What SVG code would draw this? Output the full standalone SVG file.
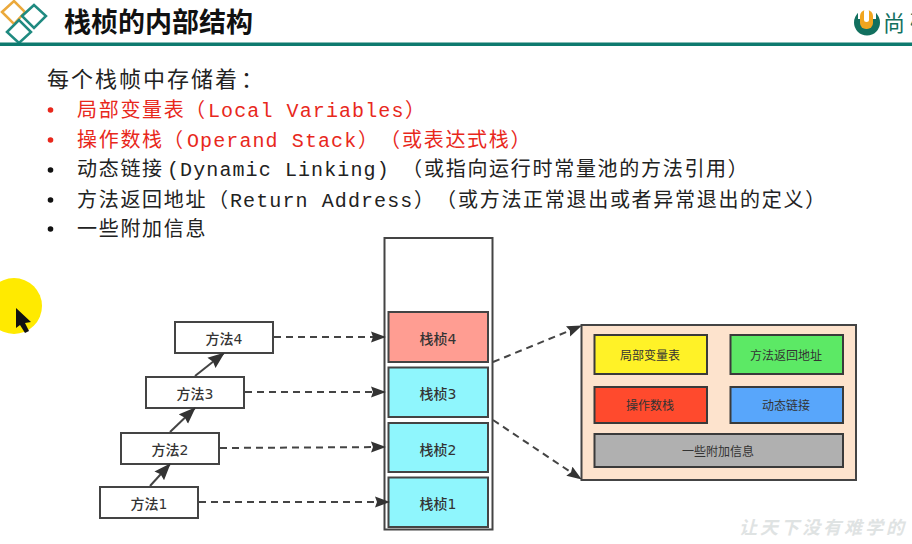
<svg xmlns="http://www.w3.org/2000/svg" width="912" height="544" viewBox="0 0 912 544">
<style>
text{font-family:"Noto Sans CJK SC","Liberation Sans",sans-serif}
.line{font-size:20px;fill:#222;letter-spacing:1.7px}
.red{fill:#e8281c}
.m{font-family:"Liberation Mono","Noto Sans CJK SC",monospace;letter-spacing:1.1px}
.node{fill:#fff;stroke:#444;stroke-width:2}
.nt{font-family:"DejaVu Sans","Noto Sans CJK SC",sans-serif;font-size:14px;fill:#333;text-anchor:middle;font-weight:500}
.in{stroke:#3a3a3a;stroke-width:2}
.it{font-size:12px;fill:#333;text-anchor:middle}
.dash{fill:none;stroke:#444;stroke-width:2;stroke-dasharray:7 5}
.solid{fill:none;stroke:#444;stroke-width:2}
</style>
<defs>
<marker id="a" markerUnits="userSpaceOnUse" markerWidth="15" markerHeight="12" refX="14" refY="6" orient="auto"><path d="M0 0.500L15 6L0 11.500L2 6Z" fill="#333"/></marker>
<marker id="b" markerUnits="userSpaceOnUse" markerWidth="17" markerHeight="14" refX="16" refY="7" orient="auto"><path d="M0 0.500L17 7L0 13.500L2 7Z" fill="#333"/></marker>
</defs>
<rect width="912" height="544" fill="#fff"/>
<g id="header">
<g fill="none" stroke-width="2.500"><path d="M2 12L14 1L25 12L14 24Z" stroke="#eba93c"/><path d="M22 16L34 5L46 16L34 28Z" stroke="#1f8a80"/><path d="M7 32L19 20L31 32L19 43Z" stroke="#1f8a80"/></g>
<text x="64" y="32" font-size="27" font-weight="700" fill="#111">栈桢的内部结构</text>
<rect x="0" y="42.500" width="912" height="3.500" fill="#0e7a6f"/>
<circle cx="867" cy="22.500" r="13" fill="#12705f"/><rect x="858" y="7" width="18" height="12" fill="#fff"/><rect x="860" y="10" width="13" height="19" rx="6" fill="#f1a51f"/><rect x="864" y="9" width="5" height="13" rx="2.500" fill="#fff"/>
<text x="883" y="31" font-size="22" fill="#12705f" letter-spacing="5">尚硅</text>
</g>
<g id="text">
<text x="47" y="87" font-size="22" fill="#222" letter-spacing="2">每个栈帧中存储着<tspan x="241">&#xFF1A;</tspan></text>
<circle cx="50.500" cy="110" r="2.800" fill="#e8281c"/><text class="line red" x="77" y="117">局部变量表<tspan x="185">&#xFF08;</tspan><tspan class="m" x="208">Local Variables</tspan><tspan x="405">&#xFF09;</tspan></text>
<circle cx="50.500" cy="140" r="2.800" fill="#e8281c"/><text class="line red" x="77" y="147">操作数栈<tspan x="163">&#xFF08;</tspan><tspan class="m" x="187">Operand Stack</tspan><tspan x="358">&#xFF09;</tspan><tspan x="380">&#xFF08;</tspan><tspan x="402">或表达式栈&#xFF09;</tspan></text>
<circle cx="50.500" cy="170" r="2.800" fill="#111"/><text class="line" x="77" y="176">动态链接<tspan class="m" x="167">(Dynamic Linking)</tspan><tspan x="402">&#xFF08;</tspan><tspan x="424">或指向运行时常量池的方法引用&#xFF09;</tspan></text>
<circle cx="50.500" cy="200" r="2.800" fill="#111"/><text class="line" x="77" y="207">方法返回地址<tspan x="208">&#xFF08;</tspan><tspan class="m" x="230">Return Address</tspan><tspan x="414">&#xFF09;</tspan><tspan x="436">&#xFF08;</tspan><tspan x="458">或方法正常退出或者异常退出的定义&#xFF09;</tspan></text>
<circle cx="50.500" cy="229" r="2.800" fill="#111"/><text class="line" x="77" y="236">一些附加信息</text>
</g>
<g id="pointer"><circle cx="14" cy="306" r="28" fill="#ffea00"/><path d="M16 308L16 328L20 325L25 333L29 331L25 323L31 322Z" fill="#111"/></g>
<g id="stack"><rect x="384.500" y="238" width="108" height="291.500" fill="#fff" stroke="#444" stroke-width="2"/></g>
<g id="frame4"><rect x="388.500" y="312" width="99.500" height="50" fill="#ff9d92" stroke="#444" stroke-width="2"/><text class="nt" x="438" y="344">栈桢4</text></g>
<g id="frame3"><rect x="388.500" y="367.500" width="99.500" height="49.500" fill="#8ff6fd" stroke="#444" stroke-width="2"/><text class="nt" x="438" y="399">栈桢3</text></g>
<g id="frame2"><rect x="388.500" y="423" width="99.500" height="49" fill="#8ff6fd" stroke="#444" stroke-width="2"/><text class="nt" x="438" y="455">栈桢2</text></g>
<g id="frame1"><rect x="388.500" y="477.500" width="99.500" height="49.500" fill="#8ff6fd" stroke="#444" stroke-width="2"/><text class="nt" x="438" y="509">栈桢1</text></g>
<g id="method4"><rect class="node" x="175" y="322" width="98" height="31"/><text class="nt" x="224" y="344">方法4</text></g>
<g id="method3"><rect class="node" x="146" y="377" width="98" height="31"/><text class="nt" x="195" y="399">方法3</text></g>
<g id="method2"><rect class="node" x="121" y="433" width="98" height="31"/><text class="nt" x="170" y="455">方法2</text></g>
<g id="method1"><rect class="node" x="100" y="487" width="98" height="31"/><text class="nt" x="149" y="509">方法1</text></g>
<g id="detail"><rect x="581.500" y="325" width="274.500" height="155" fill="#fde3cd" stroke="#444" stroke-width="2"/></g>
<g id="local"><rect class="in" x="594.500" y="335" width="112.500" height="39" fill="#fff227"/><text class="it" x="650" y="360">局部变量表</text></g>
<g id="return"><rect class="in" x="730.500" y="335" width="112.500" height="39" fill="#5ce965"/><text class="it" x="786" y="360">方法返回地址</text></g>
<g id="operand"><rect class="in" x="594.500" y="387" width="112.500" height="36" fill="#ff4a2d"/><text class="it" x="650" y="410">操作数栈</text></g>
<g id="dynamic"><rect class="in" x="730.500" y="387" width="112.500" height="36" fill="#58a6fb"/><text class="it" x="786" y="410">动态链接</text></g>
<g id="extra"><rect class="in" x="594.500" y="434" width="248.500" height="33" fill="#b0b0b0"/><text class="it" x="718" y="456">一些附加信息</text></g>
<g id="connectors">
<path class="solid" marker-end="url(#b)" d="M150 486L170 464"/>
<path class="solid" marker-end="url(#b)" d="M170 432L195 408"/>
<path class="solid" marker-end="url(#b)" d="M195 376L224 353"/>
<path class="dash" marker-end="url(#a)" d="M199 502L389 502"/>
<path class="dash" marker-end="url(#a)" d="M220 448L385 447"/>
<path class="dash" marker-end="url(#a)" d="M245 392L385 392"/>
<path class="dash" marker-end="url(#a)" d="M274 337L385 337"/>
<path class="dash" marker-end="url(#a)" d="M493 362L581 326"/>
<path class="dash" marker-end="url(#a)" d="M493 420L581 479"/>
</g>
<text x="739" y="534" font-size="18" font-weight="700" fill="#dfe3e3" letter-spacing="3" font-style="italic">让天下没有难学的</text>
</svg>
